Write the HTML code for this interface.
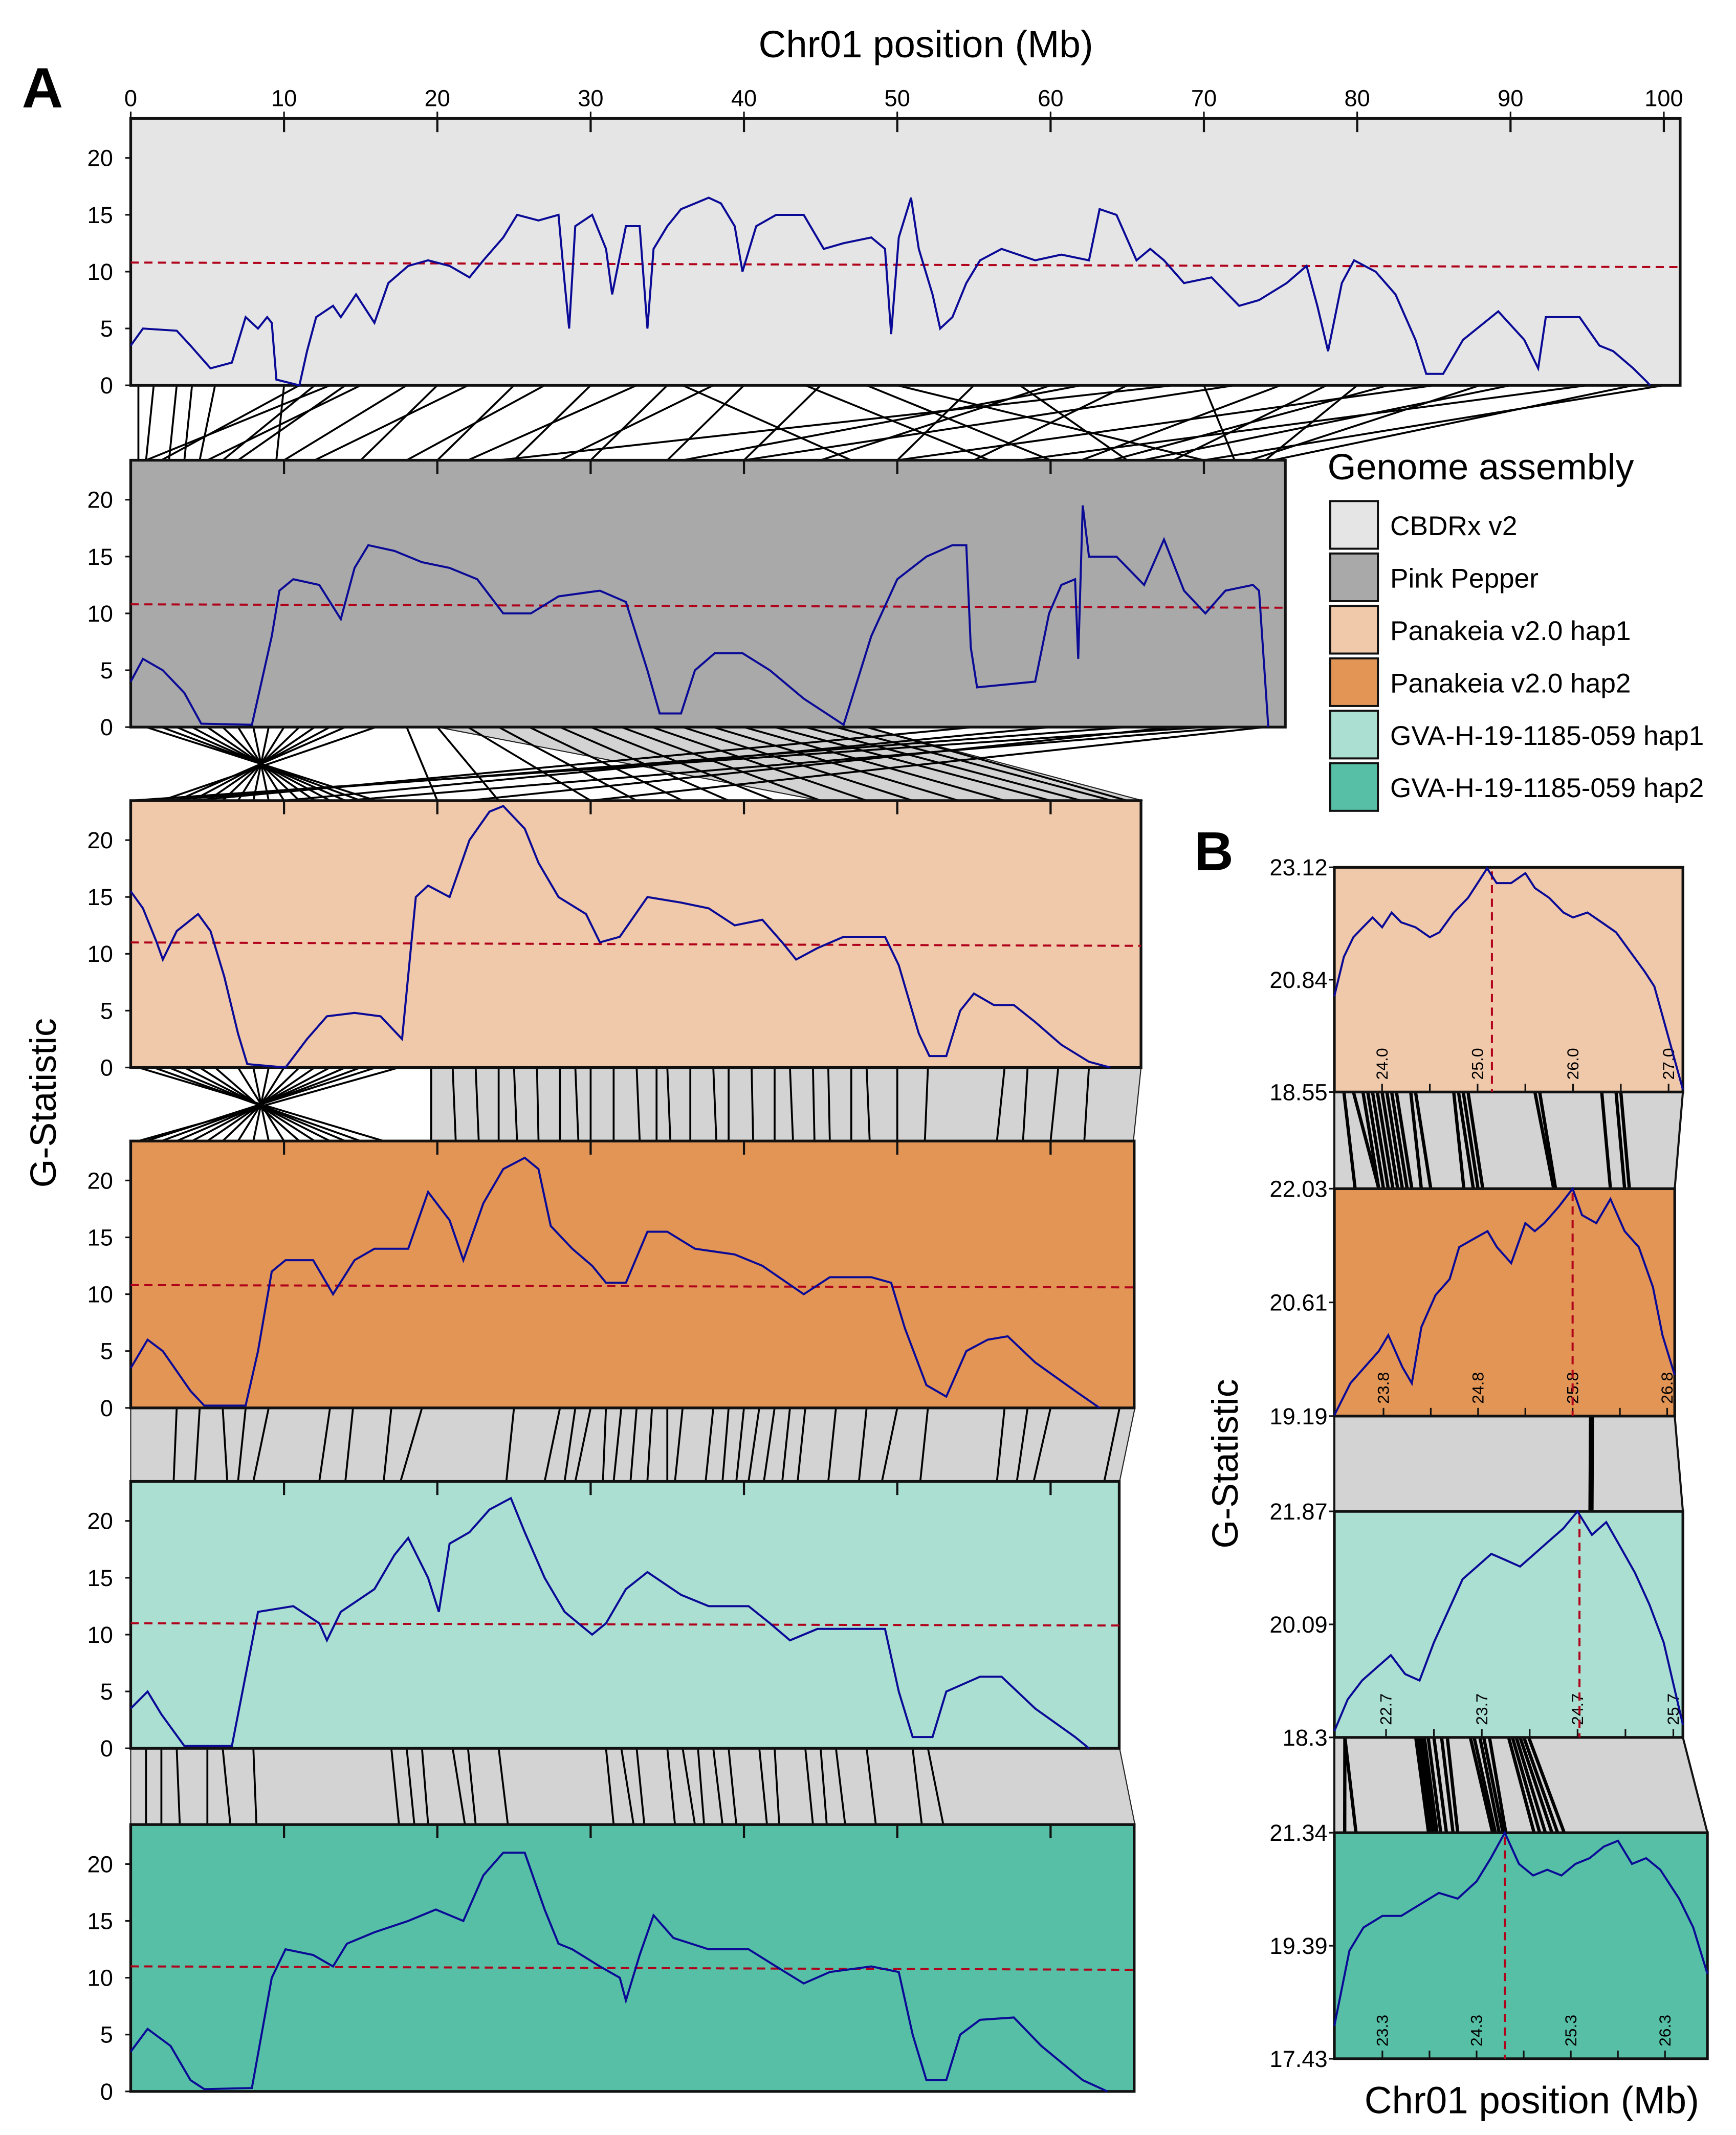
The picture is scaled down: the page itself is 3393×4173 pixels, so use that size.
<!DOCTYPE html>
<html><head><meta charset="utf-8"><style>
html,body{margin:0;padding:0;background:#fff;}
svg{display:block;font-family:"Liberation Sans",sans-serif;}
</style></head><body>
<svg id="fig" width="3393" height="4173" viewBox="0 0 1275 1568" preserveAspectRatio="none" xmlns="http://www.w3.org/2000/svg">
<rect x="0" y="0" width="1275" height="1568" fill="#fff"/>
<text x="16" y="79" font-size="42" font-weight="bold">A</text>
<text x="877" y="639" font-size="40" font-weight="bold">B</text>
<text x="680" y="42" font-size="28" text-anchor="middle">Chr01 position (Mb)</text>
<text x="0" y="0" font-size="27" text-anchor="middle" transform="translate(41,810) rotate(-90)">G-Statistic</text>
<text x="0" y="0" font-size="27" text-anchor="middle" transform="translate(909,1075) rotate(-90)">G-Statistic</text>
<text x="1125" y="1552" font-size="28" text-anchor="middle">Chr01 position (Mb)</text>
<g id="syn"></g><g id="panels"></g><g id="legend"></g><g id="bpanels"></g>
</svg>
<script>
// ---- Panel A data (Mb positions, G values) ----
const topTicks = [0,10,20,30,40,50,60,70,80,90,100];
const yTicks = [0,5,10,15,20];
const names = ["CBDRx v2","Pink Pepper","Panakeia v2.0 hap1","Panakeia v2.0 hap2","GVA-H-19-1185-059 hap1","GVA-H-19-1185-059 hap2"];
const p1Pos = [0,0.8,3.0,3.9,5.2,6.6,7.5,8.3,8.9,9.2,9.5,11.0,11.5,12.1,13.2,13.7,14.7,15.9,16.8,18.1,19.4,20.8,22.1,23.0,24.3,25.2,26.6,27.9,28.3,28.6,29.0,30.1,31.0,31.4,32.3,33.2,33.7,34.1,35.0,35.9,36.8,37.7,38.5,39.4,39.9,40.8,42.1,43.9,45.2,46.5,48.3,49.2,49.6,50.1,50.9,51.4,52.3,52.8,53.6,54.5,55.4,56.8,59.0,60.7,62.5,63.2,64.3,65.6,66.5,67.4,68.7,70.5,72.3,73.6,75.4,76.7,77.4,78.1,79.0,79.8,81.2,82.5,83.8,84.5,85.6,86.9,89.2,90.9,91.8,92.3,94.5,95.8,96.7,98.0,98.9,99.1];
const p1Val = [3.5,5,4.8,3.5,1.5,2,6,5,6,5.5,0.5,0,3,6,7,6,8,5.5,9,10.5,11,10.5,9.5,11,13,15,14.5,15,9,5,14,15,12,8,14,14,5,12,14,15.5,16,16.5,16,14,10,14,15,15,12,12.5,13,12,4.5,13,16.5,12,8,5,6,9,11,12,11,11.5,11,15.5,15,11,12,11,9,9.5,7,7.5,9,10.5,7,3,9,11,10,8,4,1,1,4,6.5,4,1.5,6,6,3.5,3,1.5,0.3,0];
const p2Pos = [0,0.8,2.1,3.5,4.6,7.9,9.2,9.7,10.6,12.3,13.7,14.6,15.5,17.2,19.0,20.8,22.6,24.3,26.1,27.9,30.6,32.3,33.7,34.5,35.9,36.8,38.1,39.9,41.7,43.9,46.5,48.3,50.0,51.9,53.6,54.5,54.8,55.2,59.0,59.9,60.7,61.6,61.8,62.1,62.5,64.3,66.1,67.4,68.7,70.1,71.4,73.2,73.6,74.2];
const p2Val = [4,6,5,3,0.3,0.2,8,12,13,12.5,9.5,14,16,15.5,14.5,14,13,10,10,11.5,12,11,5,1.2,1.2,5,6.5,6.5,5,2.5,0.2,8,13,15,16,16,7,3.5,4,10,12.5,13,6,19.5,15,15,12.5,16.5,12,10,12,12.5,12,0];
const p3Pos = [0,0.8,1.7,2.1,3.0,4.4,5.2,6.1,7.0,7.6,10.1,11.5,12.8,14.6,16.3,17.7,18.6,19.4,20.8,22.1,23.4,24.3,25.7,26.6,27.9,29.7,30.6,31.9,33.7,35.9,37.7,39.4,41.2,42.5,43.4,44.8,46.5,49.2,50.1,51.4,52.1,53.2,54.1,55.0,56.3,57.6,59.0,60.7,62.5,63.9];
const p3Val = [15.5,14,11,9.5,12,13.5,12,8,3,0.3,0,2.5,4.5,4.8,4.5,2.5,15,16,15,20,22.5,23,21,18,15,13.5,11,11.5,15,14.5,14,12.5,13,11,9.5,10.5,11.5,11.5,9,3,1,1,5,6.5,5.5,5.5,4,2,0.5,0];
const p4Pos = [0,1.1,2.1,3.9,4.8,7.5,8.3,9.2,10.1,11.9,13.2,14.6,15.9,18.1,19.4,20.8,21.7,23.0,24.3,25.7,26.6,27.4,28.8,30.1,31.0,32.3,33.7,35.0,36.8,39.4,41.2,43.9,45.6,48.3,49.6,50.5,51.9,53.2,54.5,55.9,57.2,59.0,61.6,63.2];
const p4Val = [3.5,6,5,1.5,0.2,0.2,5,12,13,13,10,13,14,14,19,16.5,13,18,21,22,21,16,14,12.5,11,11,15.5,15.5,14,13.5,12.5,10,11.5,11.5,11,7,2,1,5,6,6.3,4,1.5,0];
const p5Pos = [0,1.1,2.0,3.5,6.6,8.3,10.6,12.3,12.8,13.7,15.9,17.2,18.1,19.4,20.1,20.8,22.1,23.4,24.8,25.7,27.0,28.3,29.2,30.1,31.0,32.3,33.7,35.9,37.7,40.3,41.7,43.0,44.8,47.4,49.2,50.1,51.0,52.3,53.2,55.4,56.8,59.0,61.6,62.5];
const p5Val = [3.5,5,3,0.2,0.2,12,12.5,11,9.5,12,14,17,18.5,15,12,18,19,21,22,19,15,12,11,10,11,14,15.5,13.5,12.5,12.5,11,9.5,10.5,10.5,10.5,5,1,1,5,6.3,6.3,3.5,1,0];
const p6Pos = [0,1.1,2.6,3.9,4.8,7.9,9.2,10.1,11.9,13.2,14.1,15.9,18.1,19.9,21.7,23.0,24.3,25.7,27.0,27.9,28.8,30.6,31.9,32.3,33.2,34.1,35.4,37.7,40.3,42.1,43.9,45.6,48.3,50.1,51.0,51.9,53.2,54.1,55.4,57.6,59.4,62.1,63.7];
const p6Val = [3.5,5.5,4,1,0.2,0.3,10,12.5,12,11,13,14,15,16,15,19,21,21,16,13,12.5,11,10,8,12,15.5,13.5,12.5,12.5,11,9.5,10.5,11,10.5,5,1,1,5,6.3,6.5,4,1,0];
const thrStart = [10.8,10.8,11,10.8,11,11];
const thrEnd = [10.4,10.5,10.7,10.6,10.8,10.7];

// synteny pairs (top Mb, bottom Mb)
const s12Top = [0.5,1.5,3,4,5.5,10,11,12,13,14,15,18,20,22,25,27,30,33,35,38,40,45,48,50,55,58,60,65,70,72,75,78,80,85,88,90,95,98,100,62,68,82,44,36];
const s12Bot = [0.5,1,2.5,3.5,4.5,9.5,2,6,1,7,5,10,15,12,20,18,25,22,30,28,35,40,60,70,50,65,45,55,72,40,62,68,74,50,73,66,58,74.5,70,36,24,64,56,47];
const s23Top = [1,2,3,4,5,6,7,8,9,10,11,12,13,14,16,18,20,22,24,26,28,30,32,34,36,38,40,42,44,46,48,55,60,65,68,70,72,74];
const s23Bot = [16,15,14,13,12,11,10,9,8,7,6,5,4,3,2,20,24,30,33,36,39,42,45,48,51,54,57,60,62,64,65,4,10,2,22,0,14,30];
const s34Top = [0.5,1.5,2.5,3.5,4.5,5.5,7,8,9,10,11,12,13,14,15,16,17.5,19.6,21,22.5,24,25,26.5,28,29,30,31.5,33,34.3,35,36.5,38,39,40.5,42,43,44.5,45.5,47,48,50,52,57,58.5,60.5,62.5];
const s34Bot = [16.5,15,14,13,12,11,10,9,8,7,6,5,4,3,2,1,0.5,19.6,21.2,22.7,24,25.2,26.6,28,29.2,30,31.5,33.2,34.3,35.2,36.5,38.2,39,40.6,42,43.2,44.6,45.6,47,48.2,50,51.8,56.5,58.2,60,62.2];
const s45Top = [3,4.5,6,7.5,9,13,14.5,17,19,25,28,29,30,31,32,33,34,35,36,38,39,40,41,42,43,44,46,48,50,52,57,58.5,60,64.5];
const s45Bot = [2.8,4.2,6.3,7,8,12.3,14,16.5,17.6,24.5,27,28.3,29,30.8,31.5,32.6,33.7,35,35.5,37.5,38.6,39.5,40.3,41.3,42.5,43.5,45.5,47.5,49,51.5,56.5,57.8,58.9,63.5];
const s56Top = [1,2,3,5,6,8,17,18,19,21,22,24,31,32,33,35,36,37,38,39,41,42,44,45,46,48,51,52];
const s56Bot = [1,2,3.2,5,6.5,8.2,17.5,18.5,19.4,21.8,22.5,24.6,31.5,32.8,33.5,35.5,36.8,37.4,38.6,39.5,41.5,42.3,44.5,45.4,46.6,48.6,51.6,53];

const SVGNS = "http://www.w3.org/2000/svg";
function mk(tag, attrs, parent){const e=document.createElementNS(SVGNS,tag);for(const k in attrs)e.setAttribute(k,attrs[k]);parent.appendChild(e);return e;}
const X0 = 96, PXMB = 11.26;
function xA(mb){return X0 + mb*PXMB;}
const panelTop = [87,338,588,838,1088,1340];
const panelRight = [1234,944,838,833,822,833];
const panelH = 196;
const fills = ["#e5e5e5","#a9a9a9","#f0c9aa","#e39556","#aadfd2","#56bfa5"];
const posArr = [p1Pos,p2Pos,p3Pos,p4Pos,p5Pos,p6Pos];
const valArr = [p1Val,p2Val,p3Val,p4Val,p5Val,p6Val];
function yA(i,v){return panelTop[i]+panelH - v*(167/20);}

const syn = document.getElementById('syn');
const synPairs = [[s12Top,s12Bot],[s23Top,s23Bot],[s34Top,s34Bot],[s45Top,s45Bot],[s56Top,s56Bot]];
const bands = [null,[[20,48],[45,66]],[[19.6,65.9],[19.6,65.4]],[[0,65.5],[0,64.5]],[[0,64.5],[0,65.5]]];
synPairs.forEach((pr,k)=>{
  const yt = panelTop[k]+panelH, yb = panelTop[k+1];
  const g = mk('g',{},syn);
  
  
  if(bands[k]){
    const b=bands[k];
    const poly = mk('polygon',{points:`${xA(b[0][0])},${yt} ${xA(b[0][1])},${yt} ${xA(b[1][1])},${yb} ${xA(b[1][0])},${yb}`,fill:'#d3d3d3',stroke:'#222','stroke-width':0.8},g);
    
    
  }
  pr[0].forEach((t,j)=>{
    const l = mk('line',{x1:xA(t),y1:yt,x2:xA(pr[1][j]),y2:yb,stroke:'#000','stroke-width':1.4},g);
    
    
  });
});

const panels = document.getElementById('panels');
for(let i=0;i<6;i++){
  const g = mk('g',{},panels);
  
  
  const r = mk('rect',{x:X0,y:panelTop[i],width:panelRight[i]-X0,height:panelH,fill:fills[i],stroke:'#111','stroke-width':2},g);
  
  
  topTicks.forEach(t=>{const x=xA(t); if(x<panelRight[i]-2 && t>0) mk('line',{x1:x,y1:panelTop[i],x2:x,y2:panelTop[i]+10,stroke:'#111','stroke-width':1.6},g);});
  yTicks.forEach(v=>{
    const y=yA(i,v);
    mk('line',{x1:X0-4,y1:y,x2:X0,y2:y,stroke:'#111','stroke-width':1.2},g);
    const t=mk('text',{x:X0-13,y:y+6,'font-size':17,'text-anchor':'end'},g);
    t.textContent=v;
    
    
  });
  const th = mk('line',{x1:X0,y1:yA(i,thrStart[i]),x2:panelRight[i],y2:yA(i,thrEnd[i]),stroke:'#b0001a','stroke-width':1.5,'stroke-dasharray':'6,4'},g);
  
  
  const pts = posArr[i].map((p,j)=>xA(p).toFixed(1)+','+yA(i,valArr[i][j]).toFixed(1)).join(' ');
  const pl = mk('polyline',{points:pts,fill:'none',stroke:'#0a0a96','stroke-width':1.5},g);
  
  
}
topTicks.forEach(t=>{
  const tx = mk('text',{x:xA(t),y:78,'font-size':17,'text-anchor':'middle'},panels);
  tx.textContent=t;
  
  
  mk('line',{x1:xA(t),y1:82,x2:xA(t),y2:87,stroke:'#111','stroke-width':1.2},panels);
});

// legend
const leg = document.getElementById('legend');
const lt = mk('text',{x:975,y:352,'font-size':27},leg);
lt.textContent='Genome assembly';


names.forEach((n,i)=>{
  const y=368+38.5*i;
  const sw=mk('rect',{x:977,y:y,width:35,height:35,fill:fills[i],stroke:'#111','stroke-width':1.5},leg);
  
  
  const t=mk('text',{x:1021,y:y+25,'font-size':20},leg);
  t.textContent=n;
  
  
});

// ---- Panel B data ----
const b1Pos=[23.5,23.6,23.7,23.8,23.9,24.0,24.1,24.2,24.35,24.5,24.6,24.75,24.9,25.0,25.1,25.2,25.35,25.5,25.6,25.75,25.9,26.0,26.15,26.3,26.45,26.6,26.75,26.85,26.95,27.05,27.15];
const b1Val=[20.5,21.3,21.7,21.9,22.1,21.9,22.2,22.0,21.9,21.7,21.8,22.2,22.5,22.8,23.1,22.8,22.8,23.0,22.7,22.5,22.2,22.1,22.2,22.0,21.8,21.4,21.0,20.7,20.0,19.3,18.6];
const b2Pos=[23.28,23.45,23.6,23.75,23.85,24.0,24.1,24.2,24.35,24.5,24.6,24.75,24.9,25.0,25.15,25.3,25.4,25.5,25.65,25.8,25.9,26.05,26.2,26.35,26.5,26.65,26.75,26.88];
const b2Val=[19.2,19.6,19.8,20.0,20.2,19.8,19.6,20.3,20.7,20.9,21.3,21.4,21.5,21.3,21.1,21.6,21.5,21.6,21.8,22.03,21.7,21.6,21.9,21.5,21.3,20.8,20.2,19.7];
const b3Pos=[22.16,22.3,22.45,22.6,22.75,22.9,23.05,23.2,23.35,23.5,23.65,23.8,23.95,24.1,24.25,24.4,24.55,24.7,24.85,25.0,25.15,25.3,25.45,25.6,25.8];
const b3Val=[18.4,18.9,19.2,19.4,19.6,19.3,19.2,19.8,20.3,20.8,21.0,21.2,21.1,21.0,21.2,21.4,21.6,21.87,21.5,21.7,21.3,20.9,20.4,19.8,18.5];
const b4Pos=[22.79,22.95,23.1,23.3,23.5,23.7,23.9,24.1,24.3,24.45,24.6,24.75,24.9,25.05,25.2,25.35,25.5,25.65,25.8,25.95,26.1,26.25,26.45,26.6,26.75];
const b4Val=[18.0,19.3,19.7,19.9,19.9,20.1,20.3,20.2,20.5,20.9,21.34,20.8,20.6,20.7,20.6,20.8,20.9,21.1,21.2,20.8,20.9,20.7,20.2,19.7,18.9];
const bTicks=[[24.0,25.0,26.0,27.0],[23.8,24.8,25.8,26.8],[22.7,23.7,24.7,25.7],[23.3,24.3,25.3,26.3]];
const bYLabels=[["23.12","20.84","18.55"],["22.03","20.61","19.19"],["21.87","20.09","18.3"],["21.34","19.39","17.43"]];
const bPeak=[25.15,25.8,24.72,24.6];
const bs12=[23.6,23.7,23.8,23.85,23.9,23.95,24.0,24.05,24.1,24.15,24.3,24.35,24.75,24.8,24.85,24.9,25.6,25.65,26.3,26.45,26.5];
const bs12b=[23.5,23.75,23.75,23.8,23.85,23.9,23.95,24.0,24.05,24.1,24.2,24.3,24.65,24.75,24.8,24.85,25.6,25.62,26.2,26.35,26.4];
const bs23=[25.99,26.01];
const bs23b=[24.83,24.85];
const bs34=[22.27,22.27,23.01,23.04,23.07,23.1,23.14,23.2,23.28,23.34,23.58,23.62,23.68,23.72,23.78,23.98,24.02,24.06,24.1,24.14,24.19];
const bs34b=[22.9,23.02,23.79,23.82,23.85,23.88,23.92,23.98,24.05,24.1,24.47,24.5,24.54,24.58,24.61,24.91,24.97,25.03,25.1,25.16,25.23];

const bL=980;
const bTop=[637,873,1110,1346], bBot=[802,1040,1276,1512], bRight=[1236,1230,1236,1254];
const bStart=[23.5,23.28,22.16,22.79], bEnd=[27.15,26.88,25.8,26.75];
const bMin=[18.55,19.19,18.3,17.43], bMax=[23.12,22.03,21.87,21.34];
const bPos=[b1Pos,b2Pos,b3Pos,b4Pos], bVal=[b1Val,b2Val,b3Val,b4Val];
function xB(i,mb){return bL+(mb-bStart[i])/(bEnd[i]-bStart[i])*(bRight[i]-bL);}
function yB(i,v){return bBot[i]-(v-bMin[i])/(bMax[i]-bMin[i])*(bBot[i]-bTop[i]);}
const bp=document.getElementById('bpanels');
[[bs12,bs12b],[bs23,bs23b],[bs34,bs34b]].forEach((pr,k)=>{
  const g=mk('g',{},bp);
  
  
  const yt=bBot[k], yb=bTop[k+1];
  mk('polygon',{points:`${bL},${yt} ${bRight[k]},${yt} ${bRight[k+1]},${yb} ${bL},${yb}`,fill:'#d3d3d3',stroke:'#111','stroke-width':1.5},g);
  pr[0].forEach((t,j)=>{
    const l=mk('line',{x1:xB(k,t),y1:yt,x2:xB(k+1,pr[1][j]),y2:yb,stroke:'#000','stroke-width':2.4},g);
    
    
  });
});
for(let i=0;i<4;i++){
  const g=mk('g',{},bp);
  
  
  mk('rect',{x:bL,y:bTop[i],width:bRight[i]-bL,height:bBot[i]-bTop[i],fill:fills[i+2],stroke:'#111','stroke-width':2},g);
  const ys=[bTop[i],(bTop[i]+bBot[i])/2,bBot[i]];
  bYLabels[i].forEach((lab,j)=>{
    mk('line',{x1:bL-4,y1:ys[j],x2:bL,y2:ys[j],stroke:'#111','stroke-width':1.2},g);
    const t=mk('text',{x:bL-5,y:ys[j]+6,'font-size':17,'text-anchor':'end'},g);
    t.textContent=lab;
    
    
  });
  bTicks[i].forEach((tk,j)=>{
    [tk, tk+0.5].forEach(v=>{ if(v<bEnd[i]){const x=xB(i,v); mk('line',{x1:x,y1:bBot[i]-6,x2:x,y2:bBot[i],stroke:'#111','stroke-width':1.2},g);} });
    const x=xB(i,tk);
    const t=mk('text',{x:0,y:0,'font-size':12,transform:`translate(${x+4},${bBot[i]-9}) rotate(-90)`},g);
    t.textContent=tk.toFixed(1);
    
    
  });
  const px=xB(i,bPeak[i]);
  const pk=mk('line',{x1:px,y1:bTop[i]+3,x2:px,y2:bBot[i],stroke:'#b0001a','stroke-width':1.5,'stroke-dasharray':'6,4'},g);
  
  
  const pts=bPos[i].map((p,j)=>xB(i,p).toFixed(1)+','+yB(i,bVal[i][j]).toFixed(1)).join(' ');
  const pl=mk('polyline',{points:pts,fill:'none',stroke:'#0a0a96','stroke-width':1.5},g);
  
  
}
</script>
</body></html>
